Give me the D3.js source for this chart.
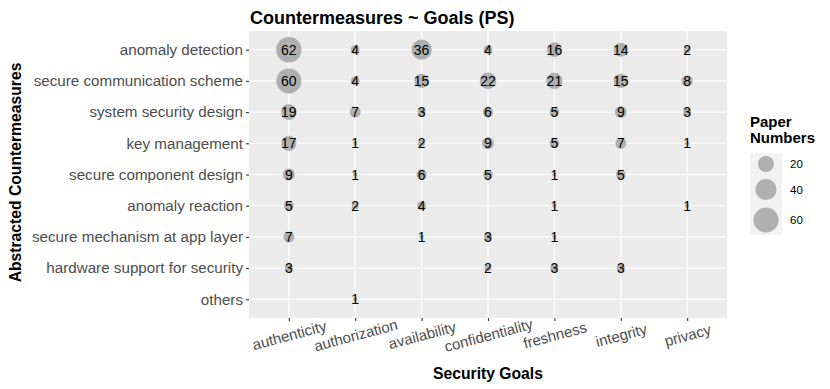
<!DOCTYPE html>
<html><head><meta charset="utf-8">
<script src="https://cdn.jsdelivr.net/npm/d3@7"></script>
<style>
body{margin:0;background:#fff;}
svg{font-family:"Liberation Sans",Arial,Helvetica,sans-serif;display:block;}
</style></head>
<body><svg id="chart" width="830" height="389"></svg>
<script>
const goals = ["authenticity","authorization","availability","confidentiality","freshness","integrity","privacy"];
const countermeasures = ["anomaly detection","secure communication scheme","system security design","key management","secure component design","anomaly reaction","secure mechanism at app layer","hardware support for security","others"];
const anomalyDetection = [62,4,36,4,16,14,2];
const secureCommunication = [60,4,15,22,21,15,8];
const systemSecurityDesign = [19,7,3,6,5,9,3];
const keyManagement = [17,1,2,9,5,7,1];
const secureComponentDesign = [9,1,6,5,1,5,null];
const anomalyReaction = [5,2,4,null,1,null,1];
const secureMechanismApp = [7,null,1,3,1,null,null];
const hardwareSupport = [3,null,null,2,3,3,null];
const others = [null,1,null,null,null,null,null];
const seriesValues = [anomalyDetection,secureCommunication,systemSecurityDesign,keyManagement,secureComponentDesign,anomalyReaction,secureMechanismApp,hardwareSupport,others];
const legendValues = [20,40,60];

const svg = d3.select("#chart");
const panel = {l:249, r:727, t:31, b:318};

const x = d3.scalePoint().domain(goals).range([panel.l, panel.r]).padding(0.6);
const y = d3.scalePoint().domain(countermeasures).range([panel.t, panel.b]).padding(0.6);
const vMin = 1, vMax = 62;
const rLin = d3.scaleLinear().domain([0,1]).range([2.1,12.7]);
const r = v => rLin(Math.sqrt((v - vMin)/(vMax - vMin)));

const cells = [];
countermeasures.forEach((c,i)=>goals.forEach((g,j)=>{
  const v = seriesValues[i][j];
  if (v != null) cells.push({c,g,v});
}));

// panel background
svg.append("rect").attr("x",panel.l).attr("y",panel.t)
  .attr("width",panel.r-panel.l).attr("height",panel.b-panel.t).attr("fill","#EBEBEB");
// grid
svg.append("g").selectAll("line").data(goals).join("line")
  .attr("x1",d=>x(d)).attr("x2",d=>x(d)).attr("y1",panel.t).attr("y2",panel.b)
  .attr("stroke","#fff").attr("stroke-width",1.1);
svg.append("g").selectAll("line").data(countermeasures).join("line")
  .attr("y1",d=>y(d)).attr("y2",d=>y(d)).attr("x1",panel.l).attr("x2",panel.r)
  .attr("stroke","#fff").attr("stroke-width",1.1);

// axes
const xAxis = svg.append("g").attr("transform",`translate(0,${panel.b})`)
  .call(d3.axisBottom(x).tickSize(3).tickPadding(3));
xAxis.select(".domain").remove();
xAxis.selectAll(".tick line").attr("stroke","#333").attr("stroke-width",1.1);
xAxis.selectAll(".tick text")
  .attr("fill","#4D4D4D").attr("font-size",15)
  .attr("text-anchor","middle").attr("dy",null)
  .attr("y",0).attr("dominant-baseline","central")
  .attr("transform","translate(0,17) rotate(-15)");

const yAxis = svg.append("g").attr("transform",`translate(${panel.l},0)`)
  .call(d3.axisLeft(y).tickSize(3).tickPadding(3));
yAxis.select(".domain").remove();
yAxis.selectAll(".tick line").attr("stroke","#333").attr("stroke-width",1.1);
yAxis.selectAll(".tick text").attr("fill","#4D4D4D").attr("font-size",15.2);

// points
svg.append("g").selectAll("circle").data(cells).join("circle")
  .attr("cx",d=>x(d.g)).attr("cy",d=>y(d.c)).attr("r",d=>r(d.v))
  .attr("fill","#999999").attr("fill-opacity",0.75);
svg.append("g").selectAll("text").data(cells).join("text")
  .attr("x",d=>x(d.g)).attr("y",d=>y(d.c)).attr("dy","0.36em")
  .attr("text-anchor","middle").attr("font-size",14).attr("fill","#000")
  .text(d=>d.v);

// titles
svg.append("text").attr("x",panel.l+1).attr("y",23.5)
  .attr("font-size",18).attr("font-weight","bold").attr("fill","#000")
  .text("Countermeasures ~ Goals (PS)");
svg.append("text").attr("x",(panel.l+panel.r)/2).attr("y",379)
  .attr("text-anchor","middle").attr("font-size",15.7).attr("font-weight","bold")
  .text("Security Goals");
svg.append("text").attr("transform",`translate(20.5,${(panel.t+panel.b)/2 - 2}) rotate(-90)`)
  .attr("text-anchor","middle").attr("font-size",15.7).attr("font-weight","bold")
  .text("Abstracted Countermeasures");

// legend
const lg = svg.append("g");
lg.append("text").attr("x",750).attr("y",127).attr("font-size",15).attr("font-weight","bold").text("Paper");
lg.append("text").attr("x",750).attr("y",143).attr("font-size",15).attr("font-weight","bold").text("Numbers");
const keyY = d3.scaleOrdinal().domain(legendValues).range([164,189.5,220]);
lg.append("rect").attr("x",750).attr("y",153).attr("width",32).attr("height",82).attr("fill","#F2F2F2");
lg.selectAll("circle").data(legendValues).join("circle")
  .attr("cx",766).attr("cy",d=>keyY(d)).attr("r",d=>r(d))
  .attr("fill","#999999").attr("fill-opacity",0.75);
lg.selectAll("text.lab").data(legendValues).join("text").attr("class","lab")
  .attr("x",790).attr("y",d=>keyY(d)).attr("dy","0.36em")
  .attr("font-size",11.5).attr("fill","#000").text(d=>d);
</script></body></html>
